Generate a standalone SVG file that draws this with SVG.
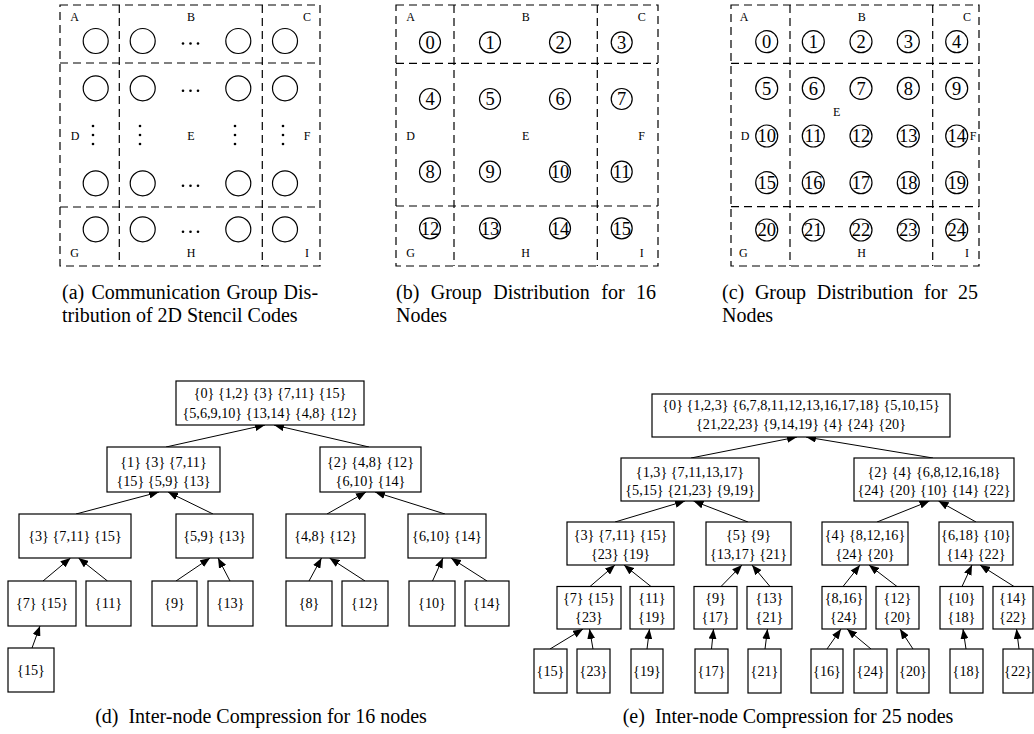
<svg xmlns="http://www.w3.org/2000/svg" width="1034" height="734" viewBox="0 0 1034 734">
<style>
text{font-family:"Liberation Serif","Times New Roman",serif;fill:#000}
.grid{fill:none;stroke:#000;stroke-width:1.2;stroke-dasharray:8 5}
.c{fill:#fff;stroke:#000;stroke-width:1.2}
.lbl{font-size:12px;text-anchor:middle}
.num{font-size:18.5px;text-anchor:middle}
.cap{font-size:20px}
.capm{font-size:20px;text-anchor:middle}
.box{fill:#fff;stroke:#000;stroke-width:1.2}
.t{font-size:14.2px;text-anchor:middle}
.e{stroke:#000;stroke-width:1;fill:none;marker-end:url(#ah)}
</style>
<defs>
<marker id="ah" markerWidth="10" markerHeight="8" refX="10" refY="4" orient="auto" markerUnits="userSpaceOnUse"><path d="M0,0 L10,4 L0,8 z" fill="#000"/></marker>
</defs>
<rect width="1034" height="734" fill="#fff"/>

<!-- Panel (a) -->
<g id="panel-a">
<rect class="grid" x="60" y="5" width="260" height="261"/>
<line class="grid" x1="119.3" y1="5" x2="119.3" y2="266"/>
<line class="grid" x1="262.3" y1="5" x2="262.3" y2="266"/>
<line class="grid" x1="60" y1="63" x2="320" y2="63"/>
<line class="grid" x1="60" y1="207" x2="320" y2="207"/>
<g class="c">
<circle cx="95.7" cy="41" r="12.5"/><circle cx="142.7" cy="41" r="12.5"/><circle cx="238.3" cy="41" r="12.5"/><circle cx="285" cy="41" r="12.5"/>
<circle cx="95.7" cy="88.3" r="12.5"/><circle cx="142.7" cy="88.3" r="12.5"/><circle cx="238.3" cy="88.3" r="12.5"/><circle cx="285" cy="88.3" r="12.5"/>
<circle cx="95.7" cy="183.3" r="12.5"/><circle cx="142.7" cy="183.3" r="12.5"/><circle cx="238.3" cy="183.3" r="12.5"/><circle cx="285" cy="183.3" r="12.5"/>
<circle cx="95.7" cy="229.3" r="12.5"/><circle cx="142.7" cy="229.3" r="12.5"/><circle cx="238.3" cy="229.3" r="12.5"/><circle cx="285" cy="229.3" r="12.5"/>
</g>
<g fill="#000">
<circle cx="183" cy="43.5" r="1.3"/><circle cx="190.5" cy="43.5" r="1.3"/><circle cx="198" cy="43.5" r="1.3"/>
<circle cx="183" cy="90.8" r="1.3"/><circle cx="190.5" cy="90.8" r="1.3"/><circle cx="198" cy="90.8" r="1.3"/>
<circle cx="183" cy="185.8" r="1.3"/><circle cx="190.5" cy="185.8" r="1.3"/><circle cx="198" cy="185.8" r="1.3"/>
<circle cx="183" cy="231.8" r="1.3"/><circle cx="190.5" cy="231.8" r="1.3"/><circle cx="198" cy="231.8" r="1.3"/>
<circle cx="93" cy="126" r="1.3"/><circle cx="93" cy="135" r="1.3"/><circle cx="93" cy="144" r="1.3"/>
<circle cx="140" cy="126" r="1.3"/><circle cx="140" cy="135" r="1.3"/><circle cx="140" cy="144" r="1.3"/>
<circle cx="235" cy="126" r="1.3"/><circle cx="235" cy="135" r="1.3"/><circle cx="235" cy="144" r="1.3"/>
<circle cx="283" cy="126" r="1.3"/><circle cx="283" cy="135" r="1.3"/><circle cx="283" cy="144" r="1.3"/>
</g>
<text class="lbl" x="74.5" y="21">A</text><text class="lbl" x="191" y="21">B</text><text class="lbl" x="307" y="21">C</text>
<text class="lbl" x="75" y="140">D</text><text class="lbl" x="191" y="140">E</text><text class="lbl" x="307" y="140">F</text>
<text class="lbl" x="74.5" y="257">G</text><text class="lbl" x="191" y="257">H</text><text class="lbl" x="307" y="257">I</text>
<text class="cap" y="298.5"><tspan x="62">(a)</tspan><tspan x="91.4">Communication</tspan><tspan x="226.4">Group</tspan><tspan x="283.6">Dis-</tspan></text>
<text class="cap" x="62" y="322">tribution of 2D Stencil Codes</text>
</g>

<!-- Panel (b) -->
<g id="panel-b">
<rect class="grid" x="396" y="5" width="262" height="261"/>
<line class="grid" x1="454" y1="5" x2="454" y2="266"/>
<line class="grid" x1="597.3" y1="5" x2="597.3" y2="266"/>
<line class="grid" x1="396" y1="63.3" x2="658" y2="63.3"/>
<line class="grid" x1="396" y1="206" x2="658" y2="206"/>
<g class="c">
<circle cx="430" cy="42.3" r="10.5"/><circle cx="490" cy="42.3" r="10.5"/><circle cx="560" cy="42.3" r="10.5"/><circle cx="621.7" cy="42.3" r="10.5"/>
<circle cx="430" cy="99" r="10.5"/><circle cx="490" cy="99" r="10.5"/><circle cx="560" cy="99" r="10.5"/><circle cx="621.7" cy="99" r="10.5"/>
<circle cx="430" cy="171.7" r="10.5"/><circle cx="490" cy="171.7" r="10.5"/><circle cx="560" cy="171.7" r="10.5"/><circle cx="621.7" cy="171.7" r="10.5"/>
<circle cx="430" cy="228.3" r="10.5"/><circle cx="490" cy="228.3" r="10.5"/><circle cx="560" cy="228.3" r="10.5"/><circle cx="621.7" cy="228.3" r="10.5"/>
</g>
<text class="num" x="430" y="48.6">0</text><text class="num" x="490" y="48.6">1</text><text class="num" x="560" y="48.6">2</text><text class="num" x="621.7" y="48.6">3</text>
<text class="num" x="430" y="105.3">4</text><text class="num" x="490" y="105.3">5</text><text class="num" x="560" y="105.3">6</text><text class="num" x="621.7" y="105.3">7</text>
<text class="num" x="430" y="178">8</text><text class="num" x="490" y="178">9</text><text class="num" x="560" y="178">10</text><text class="num" x="621.7" y="178">11</text>
<text class="num" x="430" y="234.6">12</text><text class="num" x="490" y="234.6">13</text><text class="num" x="560" y="234.6">14</text><text class="num" x="621.7" y="234.6">15</text>
<text class="lbl" x="410.5" y="21">A</text><text class="lbl" x="525.7" y="21">B</text><text class="lbl" x="641.7" y="21">C</text>
<text class="lbl" x="410.5" y="140">D</text><text class="lbl" x="525.7" y="140">E</text><text class="lbl" x="641.7" y="140">F</text>
<text class="lbl" x="410.5" y="257">G</text><text class="lbl" x="525.7" y="257">H</text><text class="lbl" x="641.7" y="257">I</text>
<text class="cap" y="298.5"><tspan x="396">(b)</tspan><tspan x="430.7">Group</tspan><tspan x="493.2">Distribution</tspan><tspan x="601.3">for</tspan><tspan x="636">16</tspan></text>
<text class="cap" x="396" y="322">Nodes</text>
</g>

<!-- Panel (c) -->
<g id="panel-c">
<rect class="grid" x="731" y="5" width="248" height="261"/>
<line class="grid" x1="790" y1="5" x2="790" y2="266"/>
<line class="grid" x1="932.7" y1="5" x2="932.7" y2="266"/>
<line class="grid" x1="731" y1="63.3" x2="979" y2="63.3"/>
<line class="grid" x1="731" y1="206.7" x2="979" y2="206.7"/>
<g class="c">
<circle cx="766.7" cy="41.7" r="11"/><circle cx="813.3" cy="41.7" r="11"/><circle cx="861" cy="41.7" r="11"/><circle cx="908.3" cy="41.7" r="11"/><circle cx="956.7" cy="41.7" r="11"/>
<circle cx="766.7" cy="88.3" r="11"/><circle cx="813.3" cy="88.3" r="11"/><circle cx="861" cy="88.3" r="11"/><circle cx="908.3" cy="88.3" r="11"/><circle cx="956.7" cy="88.3" r="11"/>
<circle cx="766.7" cy="136" r="11"/><circle cx="813.3" cy="136" r="11"/><circle cx="861" cy="136" r="11"/><circle cx="908.3" cy="136" r="11"/><circle cx="956.7" cy="136" r="11"/>
<circle cx="766.7" cy="182.7" r="11"/><circle cx="813.3" cy="182.7" r="11"/><circle cx="861" cy="182.7" r="11"/><circle cx="908.3" cy="182.7" r="11"/><circle cx="956.7" cy="182.7" r="11"/>
<circle cx="766.7" cy="230" r="11"/><circle cx="813.3" cy="230" r="11"/><circle cx="861" cy="230" r="11"/><circle cx="908.3" cy="230" r="11"/><circle cx="956.7" cy="230" r="11"/>
</g>
<text class="num" x="766.7" y="48">0</text><text class="num" x="813.3" y="48">1</text><text class="num" x="861" y="48">2</text><text class="num" x="908.3" y="48">3</text><text class="num" x="956.7" y="48">4</text>
<text class="num" x="766.7" y="94.6">5</text><text class="num" x="813.3" y="94.6">6</text><text class="num" x="861" y="94.6">7</text><text class="num" x="908.3" y="94.6">8</text><text class="num" x="956.7" y="94.6">9</text>
<text class="num" x="766.7" y="142.3">10</text><text class="num" x="813.3" y="142.3">11</text><text class="num" x="861" y="142.3">12</text><text class="num" x="908.3" y="142.3">13</text><text class="num" x="956.7" y="142.3">14</text>
<text class="num" x="766.7" y="189">15</text><text class="num" x="813.3" y="189">16</text><text class="num" x="861" y="189">17</text><text class="num" x="908.3" y="189">18</text><text class="num" x="956.7" y="189">19</text>
<text class="num" x="766.7" y="236.3">20</text><text class="num" x="813.3" y="236.3">21</text><text class="num" x="861" y="236.3">22</text><text class="num" x="908.3" y="236.3">23</text><text class="num" x="956.7" y="236.3">24</text>
<text class="lbl" x="744" y="21">A</text><text class="lbl" x="861.7" y="21">B</text><text class="lbl" x="967" y="21">C</text>
<text class="lbl" x="745" y="140">D</text><text class="lbl" x="836.7" y="115.5">E</text><text class="lbl" x="973" y="140">F</text>
<text class="lbl" x="743.3" y="257">G</text><text class="lbl" x="861.7" y="257">H</text><text class="lbl" x="967" y="257">I</text>
<text class="cap" y="298.5"><tspan x="722">(c)</tspan><tspan x="754.9">Group</tspan><tspan x="816.7">Distribution</tspan><tspan x="924.1">for</tspan><tspan x="958">25</tspan></text>
<text class="cap" x="722" y="322">Nodes</text>
</g>

<!-- Tree (d) connectors -->
<g id="edges-d">
<line class="e" x1="166" y1="447" x2="265" y2="425"/>
<line class="e" x1="369" y1="447" x2="274" y2="425"/>
<line class="e" x1="76" y1="514" x2="159" y2="492"/>
<line class="e" x1="213" y1="514" x2="168" y2="492"/>
<line class="e" x1="327" y1="514" x2="366" y2="492"/>
<line class="e" x1="445" y1="514" x2="375" y2="492"/>
<line class="e" x1="43" y1="581" x2="70.5" y2="558"/>
<line class="e" x1="107.5" y1="581" x2="78.5" y2="558"/>
<line class="e" x1="176" y1="581" x2="210" y2="558"/>
<line class="e" x1="230" y1="581" x2="218" y2="558"/>
<line class="e" x1="309" y1="581" x2="321.5" y2="558"/>
<line class="e" x1="365" y1="581" x2="329.5" y2="558"/>
<line class="e" x1="432.5" y1="581" x2="443" y2="558"/>
<line class="e" x1="487" y1="581" x2="451" y2="558"/>
<line class="e" x1="32" y1="648" x2="40" y2="626"/>
</g>

<!-- Tree (d) nodes -->
<g id="d-root"><rect class="box" x="176" y="381" width="188" height="44"/><text class="t" x="270" y="398">{0} {1,2} {3} {7,11} {15}</text><text class="t" x="270" y="418">{5,6,9,10} {13,14} {4,8} {12}</text></g>
<g id="d-l2a"><rect class="box" x="107" y="447" width="113" height="45"/><text class="t" x="163.5" y="466.5">{1} {3} {7,11}</text><text class="t" x="163.5" y="485.5">{15} {5,9} {13}</text></g>
<g id="d-l2b"><rect class="box" x="320" y="447" width="101" height="45"/><text class="t" x="370.5" y="466.5">{2} {4,8} {12}</text><text class="t" x="370.5" y="485.5">{6,10} {14}</text></g>
<g id="d-l3a"><rect class="box" x="19" y="514" width="112" height="44"/><text class="t" x="75" y="541">{3} {7,11} {15}</text></g>
<g id="d-l3b"><rect class="box" x="176" y="514" width="77" height="44"/><text class="t" x="214.5" y="541">{5,9} {13}</text></g>
<g id="d-l3c"><rect class="box" x="286" y="514" width="79" height="44"/><text class="t" x="325.5" y="541">{4,8} {12}</text></g>
<g id="d-l3d"><rect class="box" x="408" y="514" width="78" height="44"/><text class="t" x="447" y="541">{6,10} {14}</text></g>
<g id="d-l4a"><rect class="box" x="8" y="581" width="68" height="45"/><text class="t" x="42" y="608">{7} {15}</text></g>
<g id="d-l4b"><rect class="box" x="86" y="581" width="45" height="45"/><text class="t" x="108.5" y="608">{11}</text></g>
<g id="d-l4c"><rect class="box" x="152" y="581" width="45" height="45"/><text class="t" x="174.5" y="608">{9}</text></g>
<g id="d-l4d"><rect class="box" x="208" y="581" width="45" height="45"/><text class="t" x="230.5" y="608">{13}</text></g>
<g id="d-l4e"><rect class="box" x="286" y="581" width="46" height="45"/><text class="t" x="309" y="608">{8}</text></g>
<g id="d-l4f"><rect class="box" x="342" y="581" width="46" height="45"/><text class="t" x="365" y="608">{12}</text></g>
<g id="d-l4g"><rect class="box" x="409" y="581" width="46" height="45"/><text class="t" x="432" y="608">{10}</text></g>
<g id="d-l4h"><rect class="box" x="465" y="581" width="44" height="45"/><text class="t" x="487" y="608">{14}</text></g>
<g id="d-l5a"><rect class="box" x="8" y="648" width="46" height="44"/><text class="t" x="31" y="675">{15}</text></g>
<text class="capm" x="261" y="723">(d)&#160; Inter-node Compression for 16 nodes</text>

<!-- Tree (e) connectors -->
<g id="edges-e">
<line class="e" x1="691" y1="458" x2="797" y2="437"/>
<line class="e" x1="933" y1="458" x2="806" y2="437"/>
<line class="e" x1="615" y1="522" x2="685" y2="501"/>
<line class="e" x1="748" y1="522" x2="693.5" y2="501"/>
<line class="e" x1="877" y1="522" x2="929.5" y2="501"/>
<line class="e" x1="976" y1="522" x2="938.5" y2="501"/>
<line class="e" x1="590" y1="586.5" x2="615" y2="565"/>
<line class="e" x1="651" y1="586.5" x2="624" y2="565"/>
<line class="e" x1="721" y1="586.5" x2="742" y2="565"/>
<line class="e" x1="770" y1="586.5" x2="752" y2="565"/>
<line class="e" x1="843" y1="586.5" x2="860" y2="565"/>
<line class="e" x1="897" y1="586.5" x2="869" y2="565"/>
<line class="e" x1="962" y1="586.5" x2="972" y2="565"/>
<line class="e" x1="1014" y1="586.5" x2="980" y2="565"/>
<line class="e" x1="550" y1="649" x2="583" y2="629"/>
<line class="e" x1="593" y1="649" x2="589.5" y2="629"/>
<line class="e" x1="647" y1="649" x2="649.5" y2="629"/>
<line class="e" x1="711.5" y1="649" x2="713.5" y2="629"/>
<line class="e" x1="765" y1="649" x2="767.5" y2="629"/>
<line class="e" x1="827" y1="649" x2="841" y2="629"/>
<line class="e" x1="871" y1="649" x2="847" y2="629"/>
<line class="e" x1="913" y1="649" x2="900" y2="629"/>
<line class="e" x1="966" y1="649" x2="963" y2="629"/>
<line class="e" x1="1019" y1="649" x2="1016.5" y2="629"/>
</g>

<!-- Tree (e) nodes -->
<g id="e-root"><rect class="box" x="652" y="394" width="298" height="43"/><text class="t" x="801" y="410">{0} {1,2,3} {6,7,8,11,12,13,16,17,18} {5,10,15}</text><text class="t" x="801" y="429">{21,22,23} {9,14,19} {4} {24} {20}</text></g>
<g id="e-l2a"><rect class="box" x="621" y="458" width="138" height="43"/><text class="t" x="690" y="476.5">{1,3} {7,11,13,17}</text><text class="t" x="690" y="495">{5,15} {21,23} {9,19}</text></g>
<g id="e-l2b"><rect class="box" x="854" y="458" width="160" height="43"/><text class="t" x="934" y="476.5">{2} {4} {6,8,12,16,18}</text><text class="t" x="934" y="495">{24} {20} {10} {14} {22}</text></g>
<g id="e-l3a"><rect class="box" x="567" y="522" width="107" height="43"/><text class="t" x="620.5" y="540">{3} {7,11} {15}</text><text class="t" x="620.5" y="558.5">{23} {19}</text></g>
<g id="e-l3b"><rect class="box" x="706" y="522" width="85" height="43"/><text class="t" x="748.5" y="540">{5} {9}</text><text class="t" x="748.5" y="558.5">{13,17} {21}</text></g>
<g id="e-l3c"><rect class="box" x="822" y="522" width="86" height="43"/><text class="t" x="865" y="540">{4} {8,12,16}</text><text class="t" x="865" y="558.5">{24} {20}</text></g>
<g id="e-l3d"><rect class="box" x="939" y="522" width="74" height="43"/><text class="t" x="976" y="540">{6,18} {10}</text><text class="t" x="976" y="558.5">{14} {22}</text></g>
<g id="e-l4a"><rect class="box" x="557" y="586.5" width="64" height="42.5"/><text class="t" x="589" y="603">{7} {15}</text><text class="t" x="589" y="622">{23}</text></g>
<g id="e-l4b"><rect class="box" x="630" y="586.5" width="44" height="42.5"/><text class="t" x="652" y="603">{11}</text><text class="t" x="652" y="622">{19}</text></g>
<g id="e-l4c"><rect class="box" x="694" y="586.5" width="43" height="42.5"/><text class="t" x="715.5" y="603">{9}</text><text class="t" x="715.5" y="622">{17}</text></g>
<g id="e-l4d"><rect class="box" x="747" y="586.5" width="45" height="42.5"/><text class="t" x="769.5" y="603">{13}</text><text class="t" x="769.5" y="622">{21}</text></g>
<g id="e-l4e"><rect class="box" x="822" y="586.5" width="44" height="42.5"/><text class="t" x="844" y="603">{8,16}</text><text class="t" x="844" y="622">{24}</text></g>
<g id="e-l4f"><rect class="box" x="876" y="586.5" width="43" height="42.5"/><text class="t" x="897.5" y="603">{12}</text><text class="t" x="897.5" y="622">{20}</text></g>
<g id="e-l4g"><rect class="box" x="940" y="586.5" width="43" height="42.5"/><text class="t" x="961.5" y="603">{10}</text><text class="t" x="961.5" y="622">{18}</text></g>
<g id="e-l4h"><rect class="box" x="993" y="586.5" width="40" height="42.5"/><text class="t" x="1013" y="603">{14}</text><text class="t" x="1013" y="622">{22}</text></g>
<g id="e-l5a"><rect class="box" x="534" y="649" width="33" height="44"/><text class="t" x="550.5" y="676">{15}</text></g>
<g id="e-l5b"><rect class="box" x="577" y="649" width="33" height="44"/><text class="t" x="593.5" y="676">{23}</text></g>
<g id="e-l5c"><rect class="box" x="631" y="649" width="32" height="44"/><text class="t" x="647" y="676">{19}</text></g>
<g id="e-l5d"><rect class="box" x="695" y="649" width="33" height="44"/><text class="t" x="711.5" y="676">{17}</text></g>
<g id="e-l5e"><rect class="box" x="748" y="649" width="33" height="44"/><text class="t" x="764.5" y="676">{21}</text></g>
<g id="e-l5f"><rect class="box" x="811" y="649" width="32" height="44"/><text class="t" x="827" y="676">{16}</text></g>
<g id="e-l5g"><rect class="box" x="854" y="649" width="33" height="44"/><text class="t" x="870.5" y="676">{24}</text></g>
<g id="e-l5h"><rect class="box" x="897" y="649" width="32" height="44"/><text class="t" x="913" y="676">{20}</text></g>
<g id="e-l5i"><rect class="box" x="950" y="649" width="33" height="44"/><text class="t" x="966.5" y="676">{18}</text></g>
<g id="e-l5j"><rect class="box" x="1003" y="649" width="30" height="44"/><text class="t" x="1018" y="676">{22}</text></g>
<text class="capm" x="788" y="723">(e)&#160; Inter-node Compression for 25 nodes</text>
</svg>
